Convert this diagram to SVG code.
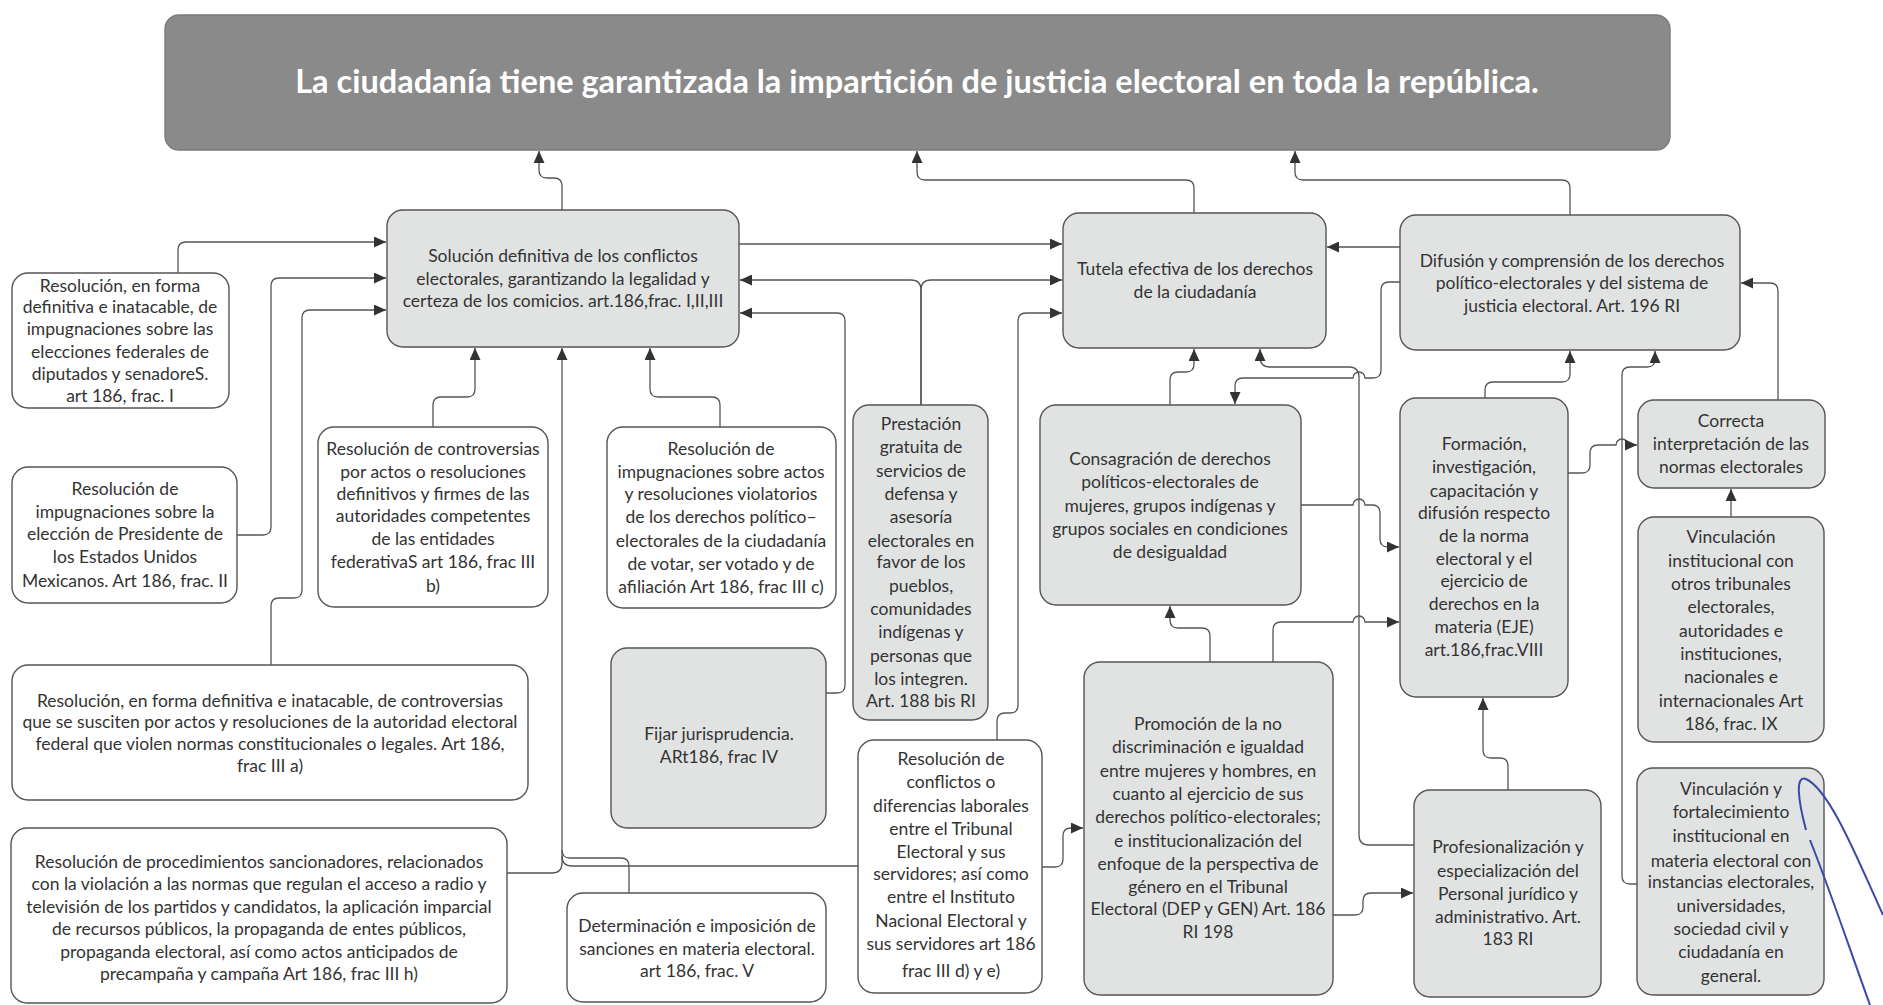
<svg xmlns="http://www.w3.org/2000/svg" width="1883" height="1005" viewBox="0 0 1883 1005">
<style>
.w{fill:#ffffff;stroke:#555;stroke-width:1.4}
.g{fill:#e1e3e3;stroke:#555;stroke-width:1.4}
.t{font-family:Lato,"Liberation Sans",sans-serif;font-size:17.5px;fill:#333;text-anchor:middle}
.ttl{font-family:Lato,"Liberation Sans",sans-serif;font-size:32.5px;font-weight:bold;fill:#fff;text-anchor:middle}
.c{fill:none;stroke:#555;stroke-width:1.3}
.a{marker-end:url(#ah)}
</style>
<defs>
<marker id="ah" markerUnits="userSpaceOnUse" markerWidth="13" markerHeight="11" refX="12" refY="5.5" orient="auto">
<path d="M0,0 L12,5.5 L0,11 z" fill="#333"/>
</marker>
</defs>
<rect width="1883" height="1005" fill="#fff"/>

<g id="connectors">
<path class="c a" d="M562,210 V186 Q562,178 554,178 H547 Q539,178 539,170 V151"/>
<path class="c a" d="M1194,213 V188 Q1194,180 1186,180 H925 Q917,180 917,172 V151"/>
<path class="c a" d="M1570,215 V188 Q1570,180 1562,180 H1303 Q1295,180 1295,172 V151"/>
<path class="c a" d="M178,273 V250 Q178,242 186,242 H386"/>
<path class="c a" d="M237,535 H263 Q271,535 271,527 V286 Q271,278 279,278 H386"/>
<path class="c a" d="M271,665 V606 Q271,598 279,598 H294 Q302,598 302,590 V318 Q302,310 310,310 H386"/>
<path class="c a" d="M433,427 V405 Q433,397 441,397 H467 Q475,397 475,389 V348"/>
<path class="c a" d="M507,873 H552 Q562,873 562,863 V348"/>
<path class="c" d="M629,893 V866 Q629,858 621,858 H570 Q562,858 562,850"/>
<path class="c" d="M858,866 H572 Q562,866 562,856"/>
<path class="c a" d="M720,427 V405 Q720,397 712,397 H658 Q650,397 650,389 V348"/>
<path class="c a" d="M826,693 H837 Q845,693 845,685 V321 Q845,313 837,313 H740"/>
<path class="c a" d="M921,405 V290 Q921,280 911,280 H740"/>
<path class="c a" d="M921,405 V290 Q921,280 931,280 H1062"/>
<path class="c a" d="M739,244 H1062"/>
<path class="c a" d="M997,740 V721 Q997,713 1005,713 H1010 Q1018,713 1018,705 V321 Q1018,313 1026,313 H1062"/>
<path class="c a" d="M1400,247 H1327"/>
<path class="c a" d="M1170,405 V380 Q1170,372 1178,372 H1186 Q1194,372 1194,364 V349"/>
<path class="c a" d="M1414,845 H1369 Q1359,845 1359,835 V377 Q1359,367 1349,367 H1270 Q1260,367 1260,357 V349"/>
<path class="c a" d="M1400,282 H1389 Q1381,282 1381,290 V370 Q1381,378 1373,378 H1365 A6,6 0 0 0 1353,378 H1243 Q1235,378 1235,386 V404"/>
<path class="c a" d="M1301,505 H1353 A6,6 0 0 1 1365,505 H1372 Q1380,505 1380,513 V539 Q1380,547 1388,547 H1399"/>
<path class="c a" d="M1210,662 V636 Q1210,628 1202,628 H1178 Q1170,628 1170,620 V606"/>
<path class="c a" d="M1273,662 V630 Q1273,622 1281,622 H1353 A6,6 0 0 1 1365,622 H1399"/>
<path class="c a" d="M1042,867 H1055 Q1063,867 1063,859 V836 Q1063,828 1071,828 H1083"/>
<path class="c a" d="M1333,915 H1355 Q1363,915 1363,907 V901 Q1363,893 1371,893 H1413"/>
<path class="c a" d="M1508,790 V766 Q1508,758 1500,758 H1491 Q1483,758 1483,750 V698"/>
<path class="c a" d="M1485,398 V390 Q1485,382 1493,382 H1562 Q1570,382 1570,374 V351"/>
<path class="c a" d="M1568,473 H1582 Q1590,473 1590,465 V453 Q1590,445 1598,445 H1616 A6,6 0 0 1 1628,445 H1637"/>
<path class="c a" d="M1637,884 H1630 Q1622,884 1622,876 V375 Q1622,367 1630,367 H1647 Q1655,367 1655,359 V351"/>
<path class="c a" d="M1731,517 V489"/>
<path class="c a" d="M1778,400 V291 Q1778,283 1770,283 H1741"/>
</g>

<g id="title">
<rect x="165" y="15" width="1505" height="135" rx="14" fill="#8a8a8a" stroke="#7a7a7a" stroke-width="1.4"/>
<text class="ttl" x="917" y="93">La ciudadanía tiene garantizada la impartición de justicia electoral en toda la república.</text>
</g>

<g id="solucion">
<rect class="g" x="387" y="210" width="352" height="137" rx="16"/>
<text class="t"><tspan x="563" y="262">Solución definitiva de los conflictos</tspan><tspan x="563" y="285">electorales, garantizando la legalidad y</tspan><tspan x="563" y="307">certeza de los comicios. art.186,frac. I,II,III</tspan></text>
</g>

<g id="tutela">
<rect class="g" x="1063" y="213" width="263" height="135" rx="16"/>
<text class="t"><tspan x="1195" y="275">Tutela efectiva de los derechos</tspan><tspan x="1195" y="298">de la ciudadanía</tspan></text>
</g>

<g id="difusion">
<rect class="g" x="1400" y="215" width="340" height="135" rx="16"/>
<text class="t"><tspan x="1572" y="267">Difusión y comprensión de los derechos</tspan><tspan x="1572" y="289">político-electorales y del sistema de</tspan><tspan x="1572" y="312">justicia electoral. Art. 196 RI</tspan></text>
</g>

<g id="res-diputados">
<rect class="w" x="12" y="273" width="217" height="135" rx="16"/>
<text class="t"><tspan x="120" y="292">Resolución, en forma</tspan><tspan x="120" y="313">definitiva e inatacable, de</tspan><tspan x="120" y="335">impugnaciones sobre las</tspan><tspan x="120" y="358">elecciones federales de</tspan><tspan x="120" y="380">diputados y senadoreS.</tspan><tspan x="120" y="402">art 186, frac. I</tspan></text>
</g>

<g id="res-presidente">
<rect class="w" x="12" y="467" width="225" height="136" rx="16"/>
<text class="t"><tspan x="125" y="495">Resolución de</tspan><tspan x="125" y="518">impugnaciones sobre la</tspan><tspan x="125" y="540">elección de Presidente de</tspan><tspan x="125" y="563">los Estados Unidos</tspan><tspan x="125" y="587">Mexicanos. Art 186, frac. II</tspan></text>
</g>

<g id="res-entidades">
<rect class="w" x="318" y="427" width="230" height="180" rx="16"/>
<text class="t"><tspan x="433" y="455">Resolución de controversias</tspan><tspan x="433" y="478">por actos o resoluciones</tspan><tspan x="433" y="500">definitivos y firmes de las</tspan><tspan x="433" y="522">autoridades competentes</tspan><tspan x="433" y="545">de las entidades</tspan><tspan x="433" y="568">federativaS art 186, frac III</tspan><tspan x="433" y="592">b)</tspan></text>
</g>

<g id="res-actos">
<rect class="w" x="607" y="427" width="229" height="181" rx="16"/>
<text class="t"><tspan x="721" y="455">Resolución de</tspan><tspan x="721" y="478">impugnaciones sobre actos</tspan><tspan x="721" y="500">y resoluciones violatorios</tspan><tspan x="721" y="523">de los derechos político–</tspan><tspan x="721" y="547">electorales de la ciudadanía</tspan><tspan x="721" y="570">de votar, ser votado y de</tspan><tspan x="721" y="593">afiliación Art 186, frac III c)</tspan></text>
</g>

<g id="prestacion">
<rect class="g" x="853" y="405" width="135" height="315" rx="16"/>
<text class="t"><tspan x="921" y="430">Prestación</tspan><tspan x="921" y="453">gratuita de</tspan><tspan x="921" y="477">servicios de</tspan><tspan x="921" y="500">defensa y</tspan><tspan x="921" y="523">asesoría</tspan><tspan x="921" y="547">electorales en</tspan><tspan x="921" y="568">favor de los</tspan><tspan x="921" y="592">pueblos,</tspan><tspan x="921" y="615">comunidades</tspan><tspan x="921" y="638">indígenas y</tspan><tspan x="921" y="662">personas que</tspan><tspan x="921" y="685">los integren.</tspan><tspan x="921" y="707">Art. 188 bis RI</tspan></text>
</g>

<g id="consagracion">
<rect class="g" x="1040" y="405" width="261" height="200" rx="16"/>
<text class="t"><tspan x="1170" y="465">Consagración de derechos</tspan><tspan x="1170" y="488">políticos-electorales de</tspan><tspan x="1170" y="512">mujeres, grupos indígenas y</tspan><tspan x="1170" y="535">grupos sociales en condiciones</tspan><tspan x="1170" y="558">de desigualdad</tspan></text>
</g>

<g id="formacion">
<rect class="g" x="1400" y="398" width="168" height="299" rx="16"/>
<text class="t"><tspan x="1484" y="450">Formación,</tspan><tspan x="1484" y="473">investigación,</tspan><tspan x="1484" y="497">capacitación y</tspan><tspan x="1484" y="519">difusión respecto</tspan><tspan x="1484" y="542">de la norma</tspan><tspan x="1484" y="565">electoral y el</tspan><tspan x="1484" y="587">ejercicio de</tspan><tspan x="1484" y="610">derechos en la</tspan><tspan x="1484" y="633">materia (EJE)</tspan><tspan x="1484" y="656">art.186,frac.VIII</tspan></text>
</g>

<g id="correcta">
<rect class="g" x="1638" y="400" width="187" height="88" rx="16"/>
<text class="t"><tspan x="1731" y="427">Correcta</tspan><tspan x="1731" y="450">interpretación de las</tspan><tspan x="1731" y="473">normas electorales</tspan></text>
</g>

<g id="vinculacion-institucional">
<rect class="g" x="1638" y="517" width="186" height="225" rx="16"/>
<text class="t"><tspan x="1731" y="543">Vinculación</tspan><tspan x="1731" y="567">institucional con</tspan><tspan x="1731" y="590">otros tribunales</tspan><tspan x="1731" y="613">electorales,</tspan><tspan x="1731" y="637">autoridades e</tspan><tspan x="1731" y="660">instituciones,</tspan><tspan x="1731" y="683">nacionales e</tspan><tspan x="1731" y="707">internacionales Art</tspan><tspan x="1731" y="730">186, frac. IX</tspan></text>
</g>

<g id="res-federal">
<rect class="w" x="12" y="665" width="516" height="135" rx="16"/>
<text class="t"><tspan x="270" y="707">Resolución, en forma definitiva e inatacable, de controversias</tspan><tspan x="270" y="728">que se susciten por actos y resoluciones de la autoridad electoral</tspan><tspan x="270" y="750">federal que violen normas constitucionales o legales. Art 186,</tspan><tspan x="270" y="772">frac III a)</tspan></text>
</g>

<g id="fijar">
<rect class="g" x="611" y="648" width="215" height="180" rx="16"/>
<text class="t"><tspan x="719" y="740">Fijar jurisprudencia.</tspan><tspan x="719" y="763">ARt186, frac IV</tspan></text>
</g>

<g id="conflictos">
<rect class="w" x="858" y="740" width="184" height="253" rx="16"/>
<text class="t"><tspan x="951" y="765">Resolución de</tspan><tspan x="951" y="788">conflictos o</tspan><tspan x="951" y="812">diferencias laborales</tspan><tspan x="951" y="835">entre el Tribunal</tspan><tspan x="951" y="858">Electoral y sus</tspan><tspan x="951" y="880">servidores; así como</tspan><tspan x="951" y="903">entre el Instituto</tspan><tspan x="951" y="927">Nacional Electoral y</tspan><tspan x="951" y="950">sus servidores art 186</tspan><tspan x="951" y="977">frac III d) y e)</tspan></text>
</g>

<g id="determinacion">
<rect class="w" x="567" y="893" width="259" height="109" rx="16"/>
<text class="t"><tspan x="697" y="932">Determinación e imposición de</tspan><tspan x="697" y="955">sanciones en materia electoral.</tspan><tspan x="697" y="977">art 186, frac. V</tspan></text>
</g>

<g id="res-sancionadores">
<rect class="w" x="11" y="828" width="496" height="175" rx="16"/>
<text class="t"><tspan x="259" y="868">Resolución de procedimientos sancionadores, relacionados</tspan><tspan x="259" y="890">con la violación a las normas que regulan el acceso a radio y</tspan><tspan x="259" y="913">televisión de los partidos y candidatos, la aplicación imparcial</tspan><tspan x="259" y="935">de recursos públicos, la propaganda de entes públicos,</tspan><tspan x="259" y="958">propaganda electoral, así como actos anticipados de</tspan><tspan x="259" y="980">precampaña y campaña Art 186, frac III h)</tspan></text>
</g>

<g id="promocion">
<rect class="g" x="1084" y="662" width="249" height="333" rx="16"/>
<text class="t"><tspan x="1208" y="730">Promoción de la no</tspan><tspan x="1208" y="753">discriminación e igualdad</tspan><tspan x="1208" y="777">entre mujeres y hombres, en</tspan><tspan x="1208" y="800">cuanto al ejercicio de sus</tspan><tspan x="1208" y="823">derechos político-electorales;</tspan><tspan x="1208" y="847">e institucionalización del</tspan><tspan x="1208" y="870">enfoque de la perspectiva de</tspan><tspan x="1208" y="893">género en el Tribunal</tspan><tspan x="1208" y="915">Electoral (DEP y GEN) Art. 186</tspan><tspan x="1208" y="938">RI 198</tspan></text>
</g>

<g id="profesionalizacion">
<rect class="g" x="1414" y="790" width="187" height="207" rx="16"/>
<text class="t"><tspan x="1508" y="853">Profesionalización y</tspan><tspan x="1508" y="877">especialización del</tspan><tspan x="1508" y="900">Personal jurídico y</tspan><tspan x="1508" y="923">administrativo. Art.</tspan><tspan x="1508" y="945">183 RI</tspan></text>
</g>

<g id="vinculacion-fortalecimiento">
<rect class="g" x="1637" y="768" width="187" height="227" rx="16"/>
<text class="t"><tspan x="1731" y="795">Vinculación y</tspan><tspan x="1731" y="818">fortalecimiento</tspan><tspan x="1731" y="842">institucional en</tspan><tspan x="1731" y="867">materia electoral con</tspan><tspan x="1731" y="888">instancias electorales,</tspan><tspan x="1731" y="912">universidades,</tspan><tspan x="1731" y="935">sociedad civil y</tspan><tspan x="1731" y="958">ciudadanía en</tspan><tspan x="1731" y="982">general.</tspan></text>
</g>

<g id="ink" fill="none" stroke="#3b4aa8" stroke-width="2">
<path d="M1806,830 C1798,800 1795,775 1806,779 C1830,790 1858,860 1883,915"/>
<path d="M1810,840 C1830,890 1850,950 1870,1005"/>
</g>
</svg>
